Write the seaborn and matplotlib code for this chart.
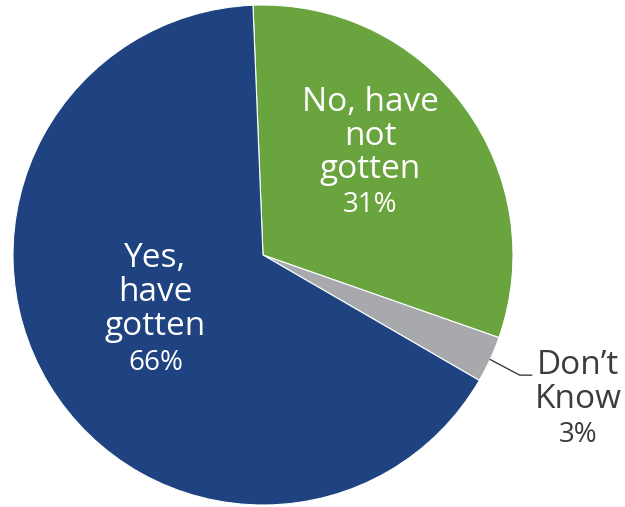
"""
Pie chart - have gotten / have not gotten / don't know
"""
import matplotlib
matplotlib.use("Agg")
import matplotlib.pyplot as plt
import numpy as np
import seaborn as sns

sns.set_theme(style="white")
plt.rcParams["font.family"] = ["Open Sans", "DejaVu Sans"]

# ── data ────────────────────────────────────────────────────────────────────
labels = ["No, have\nnot\ngotten", "Don\u2019t\nKnow", "Yes,\nhave\ngotten"]
values = [31, 3, 66]
colors = ["#6AA43F", "#A7A9AC", "#1F4380"]
text_colors = ["white", "#3C3C3C", "white"]

# ── figure ──────────────────────────────────────────────────────────────────
fig = plt.figure(figsize=(6.25, 5.07), dpi=100)
ax = fig.add_axes([13 / 625, 2 / 507, 500 / 625, 500 / 507])

start = 92.3
wedges, _ = ax.pie(values, colors=colors, startangle=start, counterclock=False,
                   radius=1.0, wedgeprops={"linewidth": 0.8, "edgecolor": "white"})
ax.set_xlim(-1, 1); ax.set_ylim(-1, 1)
ax.set_aspect("equal")
ax.axis("off")

# label positions (data coords)
name_pos = [(0.43, 0.475), (1.26, -0.51), (-0.43, -0.15)]
pct_pos = [(0.43, 0.20), (1.26, -0.72), (-0.43, -0.43)]

for lab, v, tc, npos, ppos in zip(labels, values, text_colors, name_pos, pct_pos):
    ax.text(*npos, lab, ha="center", va="center", color=tc, fontsize=24,
            linespacing=1.03, clip_on=False)
    ax.text(*ppos, f"{v}%", ha="center", va="center", color=tc, fontsize=20,
            clip_on=False)

# leader line for the small slice
cum = np.cumsum([0] + values)
mid = np.deg2rad(start - 360 * (cum[1] + values[1] / 2) / 100)
x0, y0 = np.cos(mid), np.sin(mid)
ax.plot([x0 * 1.0, x0 * 1.13, 1.075], [y0, y0 * 1.15, y0 * 1.15],
        color="#3C3C3C", linewidth=1, clip_on=False)

plt.savefig("out.png", dpi=100)
plt.close()
